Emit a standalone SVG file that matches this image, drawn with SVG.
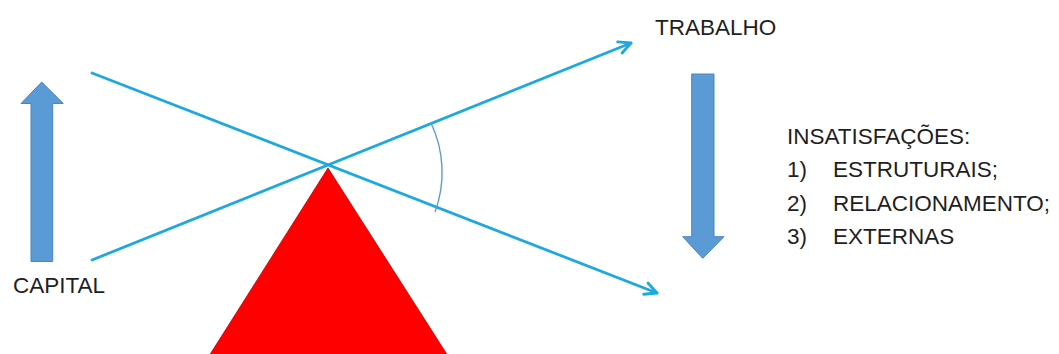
<svg xmlns="http://www.w3.org/2000/svg" width="1059" height="354" viewBox="0 0 1059 354">
<style>
.lbl{font-family:"Liberation Sans",Arial,sans-serif;font-size:22.5px;fill:#1f1f1f}
.beam{stroke:#1EA9DE;stroke-width:2.8;fill:none;stroke-linecap:round}
.blk{fill:#5B9BD5;stroke:#4A86C0;stroke-width:1}
</style>
<defs>
<marker id="open" viewBox="0 0 16 16" refX="14" refY="8" markerWidth="16" markerHeight="16" markerUnits="userSpaceOnUse" orient="auto">
<path d="M2,2 L14,8 L2,14" fill="none" stroke="#1EA9DE" stroke-width="2.8" stroke-linecap="round" stroke-linejoin="round"/>
</marker>
</defs>
<rect width="1059" height="354" fill="#ffffff"/>
<g id="fulcrum">
<polygon points="328,168 209,356 448,356" fill="#FF0000" stroke="#C00000" stroke-width="0.8"/>
</g>
<g id="connectors">
<line class="beam" x1="92" y1="260" x2="631" y2="43" marker-end="url(#open)"/>
<line class="beam" x1="92" y1="73" x2="657" y2="293" marker-end="url(#open)"/>
<path d="M431,123 A115,115 0 0 1 435,212" fill="none" stroke="#5B9BD5" stroke-width="1.4"/>
</g>
<g id="capital">
<polygon class="blk" points="41.7,82 21,103.5 31,103.5 31,261.5 52.7,261.5 52.7,103.5 63.3,103.5"/>
<text class="lbl" x="13" y="293">CAPITAL</text>
</g>
<g id="trabalho">
<text class="lbl" x="655" y="35">TRABALHO</text>
<polygon class="blk" points="691.7,74 714,74 714,236.7 724,236.7 702.7,258.3 682.7,236.7 691.7,236.7"/>
</g>
<g id="insatisfacoes">
<text class="lbl" x="787" y="143.5">INSATISFAÇÕES:</text>
<text class="lbl" x="787" y="177">1)</text>
<text class="lbl" x="833" y="177">ESTRUTURAIS;</text>
<text class="lbl" x="787" y="210.5">2)</text>
<text class="lbl" x="833" y="210.5">RELACIONAMENTO;</text>
<text class="lbl" x="787" y="244">3)</text>
<text class="lbl" x="833" y="244">EXTERNAS</text>
</g>
</svg>
